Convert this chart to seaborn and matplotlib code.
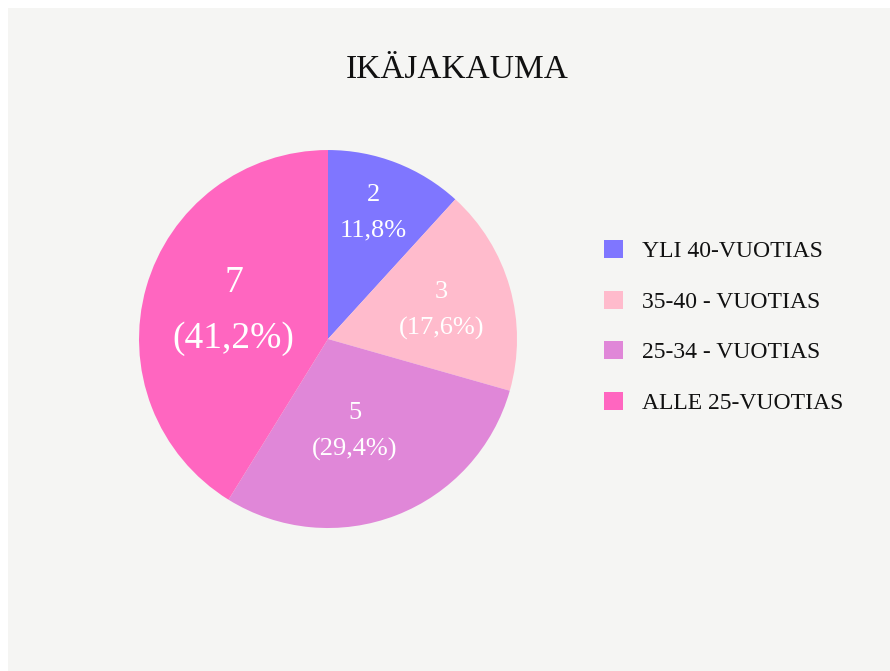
import matplotlib
matplotlib.use("Agg")
import matplotlib.pyplot as plt
import seaborn as sns
from matplotlib.patches import Rectangle, Patch

# --- data ---
categories = ["YLI 40-VUOTIAS", "35-40 - VUOTIAS", "25-34 - VUOTIAS", "ALLE 25-VUOTIAS"]
counts = [2, 3, 5, 7]
pct_labels = ["11,8%", "(17,6%)", "(29,4%)", "(41,2%)"]
colors = ["#7f76ff", "#ffbbcc", "#e087d8", "#ff66c0"]

sns.set_theme(style="white")
plt.rcParams['font.family'] = ['Liberation Serif', 'DejaVu Serif']

fig = plt.figure(figsize=(8.9, 6.71), dpi=100)
fig.patch.set_facecolor("white")
# light panel behind everything
fig.patches.append(Rectangle((8 / 890, 0), 1, 1 - 8 / 671, transform=fig.transFigure,
                             facecolor="#f5f5f3", edgecolor="none", zorder=-10))

ax = fig.add_axes([0.1562, 0.2131, 0.4247, 0.5633])
ax.set_facecolor("none")
palette = sns.color_palette(colors)
wedges, _ = ax.pie(counts, colors=palette, startangle=90, counterclock=False,
                   wedgeprops=dict(linewidth=0))
ax.set_xlim(-1, 1)
ax.set_ylim(-1, 1)

# label placement (relative to pie radius)
label_pos = [(0.24, 0.67), (0.60, 0.15), (0.14, -0.49), (-0.50, 0.15)]
label_size = [19, 19, 19, 27]
for (x, y), n, p, s in zip(label_pos, counts, pct_labels, label_size):
    ax.text(x, y, f"{n}\n{p}", ha="center", va="center", color="white",
            fontsize=s, linespacing=1.78)

fig.text(457 / 890, 1 - 70 / 671, "IKÄJAKAUMA", ha="center", va="center",
         fontsize=24, color="#111111")

handles = [Patch(facecolor=c, edgecolor="none") for c in palette]
fig.legend(handles, categories, loc="center left",
           bbox_to_anchor=(604 / 890, 1 - 327 / 671), frameon=False,
           fontsize=17, handlelength=0.8, handleheight=0.8,
           handletextpad=0.8, labelspacing=1.2, borderpad=0, borderaxespad=0,
           labelcolor="#111111")

fig.savefig("out.png", dpi=100)
